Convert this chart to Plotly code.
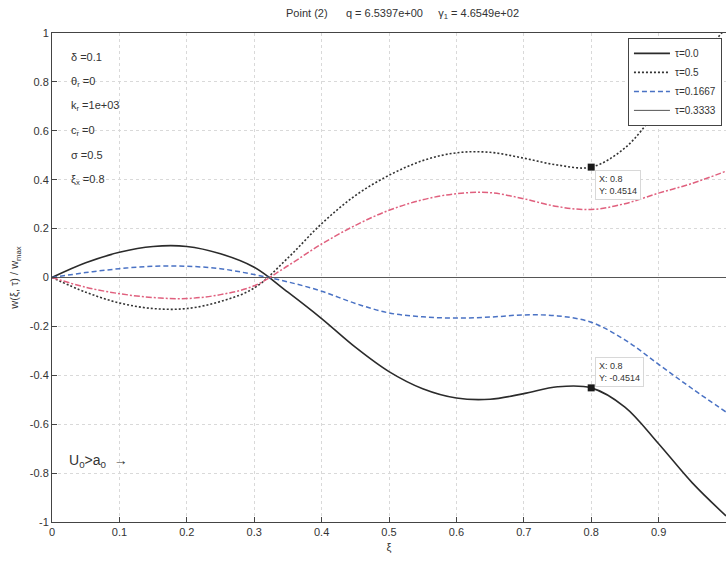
import plotly.graph_objects as go

xi = [0.0, 0.05, 0.1, 0.15, 0.2, 0.25, 0.3, 0.35, 0.4, 0.45, 0.5,
      0.55, 0.6, 0.65, 0.7, 0.75, 0.8, 0.85, 0.9, 0.95, 1.0]

w_tau0 = [0.0, 0.06, 0.103, 0.127, 0.127, 0.097, 0.042, -0.06, -0.168, -0.285, -0.385,
          -0.455, -0.493, -0.498, -0.475, -0.447, -0.4514, -0.53, -0.68, -0.84, -0.975]
w_tau05 = [0.0, -0.06, -0.104, -0.127, -0.127, -0.098, -0.043, 0.08, 0.22, 0.335, 0.418,
           0.478, 0.51, 0.512, 0.488, 0.46, 0.4514, 0.53, 0.69, 0.86, 1.02]
w_tau1667 = [0.0, 0.02, 0.036, 0.046, 0.046, 0.036, 0.012, -0.018, -0.056, -0.106, -0.145,
             -0.161, -0.166, -0.162, -0.153, -0.157, -0.183, -0.255, -0.355, -0.455, -0.55]
w_tau3333_curve = [0.0, -0.04, -0.066, -0.082, -0.086, -0.07, -0.034, 0.048, 0.137, 0.213, 0.275,
                   0.318, 0.343, 0.347, 0.322, 0.29, 0.278, 0.302, 0.345, 0.385, 0.435]
w_zero = [0.0] * len(xi)

tip_x = [0.8, 0.8]
tip_y = [0.4514, -0.4514]
tip_box_top = [0.44, -0.325]

x_ticks = [0, 0.1, 0.2, 0.3, 0.4, 0.5, 0.6, 0.7, 0.8, 0.9]
x_labels = ["0", "0.1", "0.2", "0.3", "0.4", "0.5", "0.6", "0.7", "0.8", "0.9"]
y_ticks = [-1, -0.8, -0.6, -0.4, -0.2, 0, 0.2, 0.4, 0.6, 0.8, 1]
y_labels = ["-1", "-0.8", "-0.6", "-0.4", "-0.2", "0", "0.2", "0.4", "0.6", "0.8", "1"]

params = ["δ =0.1", "θ<sub>r</sub> =0", "k<sub>r</sub> =1e+03", "c<sub>r</sub> =0",
          "σ =0.5", "ξ<sub>x</sub> =0.8"]
param_y = [0.9, 0.8, 0.7, 0.6, 0.5, 0.4]

FONT = "Liberation Sans, Arial, sans-serif"

fig = go.Figure()
fig.add_trace(go.Scatter(x=xi, y=w_tau0, mode="lines", name="τ=0.0",
                         line=dict(color="#2b2b2b", width=1.6, shape="spline", smoothing=1)))
fig.add_trace(go.Scatter(x=xi, y=w_tau05, mode="lines", name="τ=0.5",
                         line=dict(color="#333333", width=1.6, dash="2px,2px", shape="spline", smoothing=1)))
fig.add_trace(go.Scatter(x=xi, y=w_tau1667, mode="lines", name="τ=0.1667",
                         line=dict(color="#4a72c4", width=1.5, dash="5px,3px", shape="spline", smoothing=1)))
fig.add_trace(go.Scatter(x=xi, y=w_zero, mode="lines", name="τ=0.3333",
                         line=dict(color="#555555", width=1)))
fig.add_trace(go.Scatter(x=xi, y=w_tau3333_curve, mode="lines", showlegend=False,
                         line=dict(color="#e0607e", width=1.5, dash="6px,2px,2px,2px",
                                   shape="spline", smoothing=1)))
fig.add_trace(go.Scatter(x=tip_x, y=tip_y, mode="markers", showlegend=False,
                         marker=dict(symbol="square", size=7, color="#1a1a1a")))

for t, yy in zip(params, param_y):
    fig.add_annotation(x=0.025, y=yy, xref="x", yref="y", text=t, showarrow=False,
                       xanchor="left", yanchor="middle",
                       font=dict(family=FONT, size=11, color="#333333"))

fig.add_annotation(x=0.022, y=-0.75, xref="x", yref="y", text="U<sub>0</sub>>a<sub>0</sub>  →",
                   showarrow=False, xanchor="left", yanchor="middle",
                   font=dict(family=FONT, size=14, color="#333333"))

for yy, top in zip(tip_y, tip_box_top):
    fig.add_annotation(x=0.806, y=top, xref="x", yref="y",
                       text="X: 0.8<br>Y: " + ("%.4f" % yy), showarrow=False,
                       xanchor="left", yanchor="top", align="left",
                       bgcolor="white", bordercolor="#d8d8d8", borderwidth=1, borderpad=3,
                       font=dict(family=FONT, size=9, color="#333333"))

fig.add_annotation(x=0.52, y=1.02, xref="paper", yref="paper", yanchor="bottom",
                   text="Point (2)      q = 6.5397e+00     γ<sub>1</sub> = 4.6549e+02",
                   showarrow=False, font=dict(family=FONT, size=11, color="#333333"))

axis_common = dict(showline=True, linecolor="#444444", linewidth=1, mirror=True,
                   ticks="inside", ticklen=5, tickcolor="#444444",
                   showgrid=True, gridcolor="#d9d9d9", griddash="dot", gridwidth=1,
                   zeroline=False, automargin=False,
                   tickfont=dict(family=FONT, size=11, color="#333333"))

fig.update_layout(
    width=726, height=563,
    margin=dict(l=52, r=0, t=33, b=41, autoexpand=False),
    paper_bgcolor="white", plot_bgcolor="white",
    xaxis=dict(range=[0, 1], tickvals=x_ticks, ticktext=x_labels,
               title=dict(text="ξ", font=dict(family=FONT, size=11, color="#333333"), standoff=6),
               **axis_common),
    yaxis=dict(range=[-1, 1], tickvals=y_ticks, ticktext=y_labels,
               title=dict(text="w(ξ, τ) / w<sub>max</sub>",
                          font=dict(family=FONT, size=11, color="#333333"), standoff=8),
               **axis_common),
    legend=dict(x=0.994, y=0.99, xanchor="right", yanchor="top",
                bgcolor="white", bordercolor="#444444", borderwidth=1,
                font=dict(family=FONT, size=10, color="#333333"),
                tracegroupgap=0, itemwidth=36),
    showlegend=True,
)

fig.write_html("out.html", config={"displayModeBar": False},
               post_script="document.body.style.margin='0';document.body.style.overflow='hidden';")
